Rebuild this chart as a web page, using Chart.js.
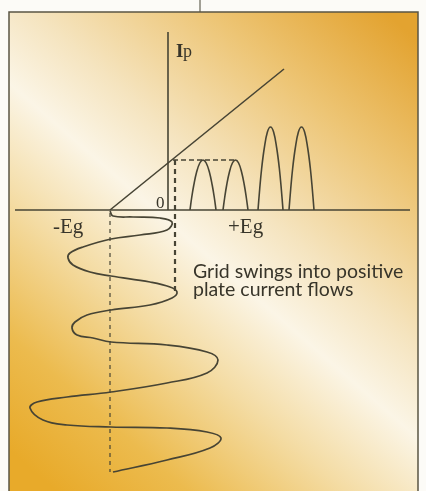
<!DOCTYPE html>
<html>
<head>
<meta charset="utf-8">
<script src="https://cdn.jsdelivr.net/npm/chart.js@4/dist/chart.umd.min.js"></script>
<style>
	html, body { margin: 0; padding: 0; background: #fcfbf7; }
	#wrap { width: 426px; height: 491px; }
</style>
</head>
<body>
<div id="wrap"><canvas id="tube"></canvas></div>
<script>
'use strict';

// grid voltage axis (Eg) and plate current axis (Ip)
const egAxisX = [-15.3, 24.2];
const egAxisY = [0, 0];
const ipAxisX = [0, 0];
const ipAxisY = [0, 17.8];

// transfer characteristic
const curveX = [-5.8, 11.6];
const curveY = [0, 14.1];

// dashed guides
const cutoffX = [-5.8, -5.8];
const cutoffY = [-0.3, -26.2];
const zeroX = [0.7, 0.7];
const zeroY = [5.0, -8.5];
const levelX = [0.5, 6.7];
const levelY = [5.0, 5.0];

// plate current pulses
const pulseX = [
	[2.2, 2.37, 2.58, 2.85, 3.18, 3.5, 3.82, 4.15, 4.42, 4.63, 4.8],
	[5.5, 5.67, 5.87, 6.13, 6.44, 6.75, 7.06, 7.37, 7.63, 7.83, 8.0],
	[9.0, 9.17, 9.37, 9.63, 9.94, 10.25, 10.56, 10.87, 11.13, 11.33, 11.5],
	[12.1, 12.27, 12.47, 12.73, 13.04, 13.35, 13.66, 13.97, 14.23, 14.43, 14.6]
];
const pulseY = [
	[0, 1.25, 2.5, 3.75, 4.7, 5.0, 4.7, 3.75, 2.5, 1.25, 0],
	[0, 1.25, 2.5, 3.75, 4.7, 5.0, 4.7, 3.75, 2.5, 1.25, 0],
	[0, 2.1, 4.2, 6.2, 7.8, 8.3, 7.8, 6.2, 4.2, 2.1, 0],
	[0, 2.1, 4.2, 6.2, 7.8, 8.3, 7.8, 6.2, 4.2, 2.1, 0]
];

// grid signal swing (time runs downward)
const swingX = [-5.8, -5.5, -3.5, -0.8, 0.4, -0.1, -2.8, -5.7, -8.5, -9.8, -10.0, -9.5, -7.8, -5.7,
	-1.8, 0.2, 0.9, 0.4, -1.8, -5.7, -8.1, -9.3, -9.6, -9.1, -7.5, -5.7, -0.1, 3.9, 5.0, 3.9,
	-0.1, -5.7, -10.1, -13.1, -13.8, -12.5, -10.1, -5.7, -0.1, 3.9, 5.3, 4.2, -0.1, -5.5];
const swingY = [-0.1, -0.6, -0.7, -0.8, -1.2, -2.0, -2.5, -2.9, -3.7, -4.3, -4.8, -5.5, -6.2, -6.6,
	-7.2, -7.7, -8.2, -8.8, -9.5, -10.0, -10.5, -11.2, -11.8, -12.5, -12.8, -13.2, -13.5, -14.2, -15.0, -16.3,
	-17.3, -18.2, -18.7, -19.2, -19.8, -21.0, -21.5, -21.7, -21.8, -22.2, -22.8, -23.8, -25.0, -26.2];

const axisLabels = ['I', 'p', '0', '-Eg', '+Eg'];
const noteLines = ['Grid swings into positive', 'plate current flows'];

const ink = '#474434';

function pts(xs, ys) {
	return xs.map((x, i) => ({x: x, y: ys[i]}));
}

function line(xs, ys, extra) {
	return Object.assign({
		data: pts(xs, ys),
		showLine: true,
		borderColor: ink,
		borderWidth: 1.6,
		pointRadius: 0,
		tension: 0,
		fill: false
	}, extra || {});
}

let datasets = [
	line(egAxisX, egAxisY),
	line(ipAxisX, ipAxisY),
	line(curveX, curveY),
	line(cutoffX, cutoffY, {borderWidth: 1.2, borderDash: [4, 4]}),
	line(zeroX, zeroY, {borderWidth: 2.2, borderDash: [5, 4]}),
	line(levelX, levelY, {borderWidth: 1.3, borderDash: [5, 3]}),
	line(swingX, swingY, {borderWidth: 1.7, tension: 0.4}),
	line([3.2, 3.2], [19.8, 21.2], {borderWidth: 1, clip: false})
];

for (let i = 0; i < pulseX.length; i++) {
	datasets.push(line(pulseX[i], pulseY[i], {borderWidth: 1.6, tension: 0.4}));
}

const backdrop = {
	id: 'backdrop',
	beforeDraw(chart) {
		let ctx = chart.ctx;
		let a = chart.chartArea;
		let w = a.right - a.left;
		let h = a.bottom - a.top;
		ctx.save();
		ctx.fillStyle = '#fcfbf7';
		ctx.fillRect(0, 0, chart.width, chart.height);
		let g = ctx.createLinearGradient(a.left + 0.075 * w, a.top + 0.97 * h, a.left + 1.0 * w, a.top + 0.06 * h);
		g.addColorStop(0, '#e8aa2a');
		g.addColorStop(0.15, '#ecbb4e');
		g.addColorStop(0.33, '#f4dca4');
		g.addColorStop(0.48, '#fbf5e6');
		g.addColorStop(0.6, '#f5e4bf');
		g.addColorStop(0.8, '#edc575');
		g.addColorStop(1, '#e3a330');
		ctx.fillStyle = g;
		ctx.fillRect(a.left, a.top, w, h);
		ctx.restore();
	},
	afterDraw(chart) {
		let ctx = chart.ctx;
		let a = chart.chartArea;
		let sx = chart.scales.x;
		let sy = chart.scales.y;
		ctx.save();
		ctx.strokeStyle = '#5a5644';
		ctx.lineWidth = 1.5;
		ctx.beginPath();
		ctx.moveTo(a.left, chart.height + 2);
		ctx.lineTo(a.left, a.top);
		ctx.lineTo(a.right, a.top);
		ctx.lineTo(a.right, chart.height + 2);
		ctx.stroke();

		ctx.fillStyle = '#38352a';
		ctx.textBaseline = 'alphabetic';
		ctx.textAlign = 'left';
		ctx.font = 'bold 19px "Liberation Serif", serif';
		ctx.fillText(axisLabels[0], sx.getPixelForValue(0.8), sy.getPixelForValue(15.3));
		ctx.font = '18px "Liberation Serif", serif';
		ctx.fillText(axisLabels[1], sx.getPixelForValue(1.5), sy.getPixelForValue(15.3));
		ctx.font = '17px "Liberation Serif", serif';
		ctx.fillText(axisLabels[2], sx.getPixelForValue(-1.2), sy.getPixelForValue(0.2));
		ctx.font = '21px "Liberation Serif", serif';
		ctx.fillText(axisLabels[3], sx.getPixelForValue(-11.5), sy.getPixelForValue(-2.3));
		ctx.fillText(axisLabels[4], sx.getPixelForValue(6.0), sy.getPixelForValue(-2.3));

		ctx.font = '19.5px Lato, sans-serif';
		ctx.fillText(noteLines[0], sx.getPixelForValue(2.5), sy.getPixelForValue(-6.8));
		ctx.fillText(noteLines[1], sx.getPixelForValue(2.5), sy.getPixelForValue(-8.6));
		ctx.restore();
	}
};

let chart = new Chart(document.getElementById('tube'), {
	type: 'scatter',
	data: {datasets: datasets},
	options: {
		responsive: true,
		maintainAspectRatio: false,
		animation: false,
		layout: {padding: {left: 9, top: 12, right: 8, bottom: 0}},
		plugins: {legend: {display: false}, tooltip: {enabled: false}},
		scales: {
			x: {type: 'linear', min: -15.9, max: 25.0, display: false},
			y: {type: 'linear', min: -28.1, max: 19.8, display: false}
		}
	},
	plugins: [backdrop]
});
</script>
</body>
</html>
